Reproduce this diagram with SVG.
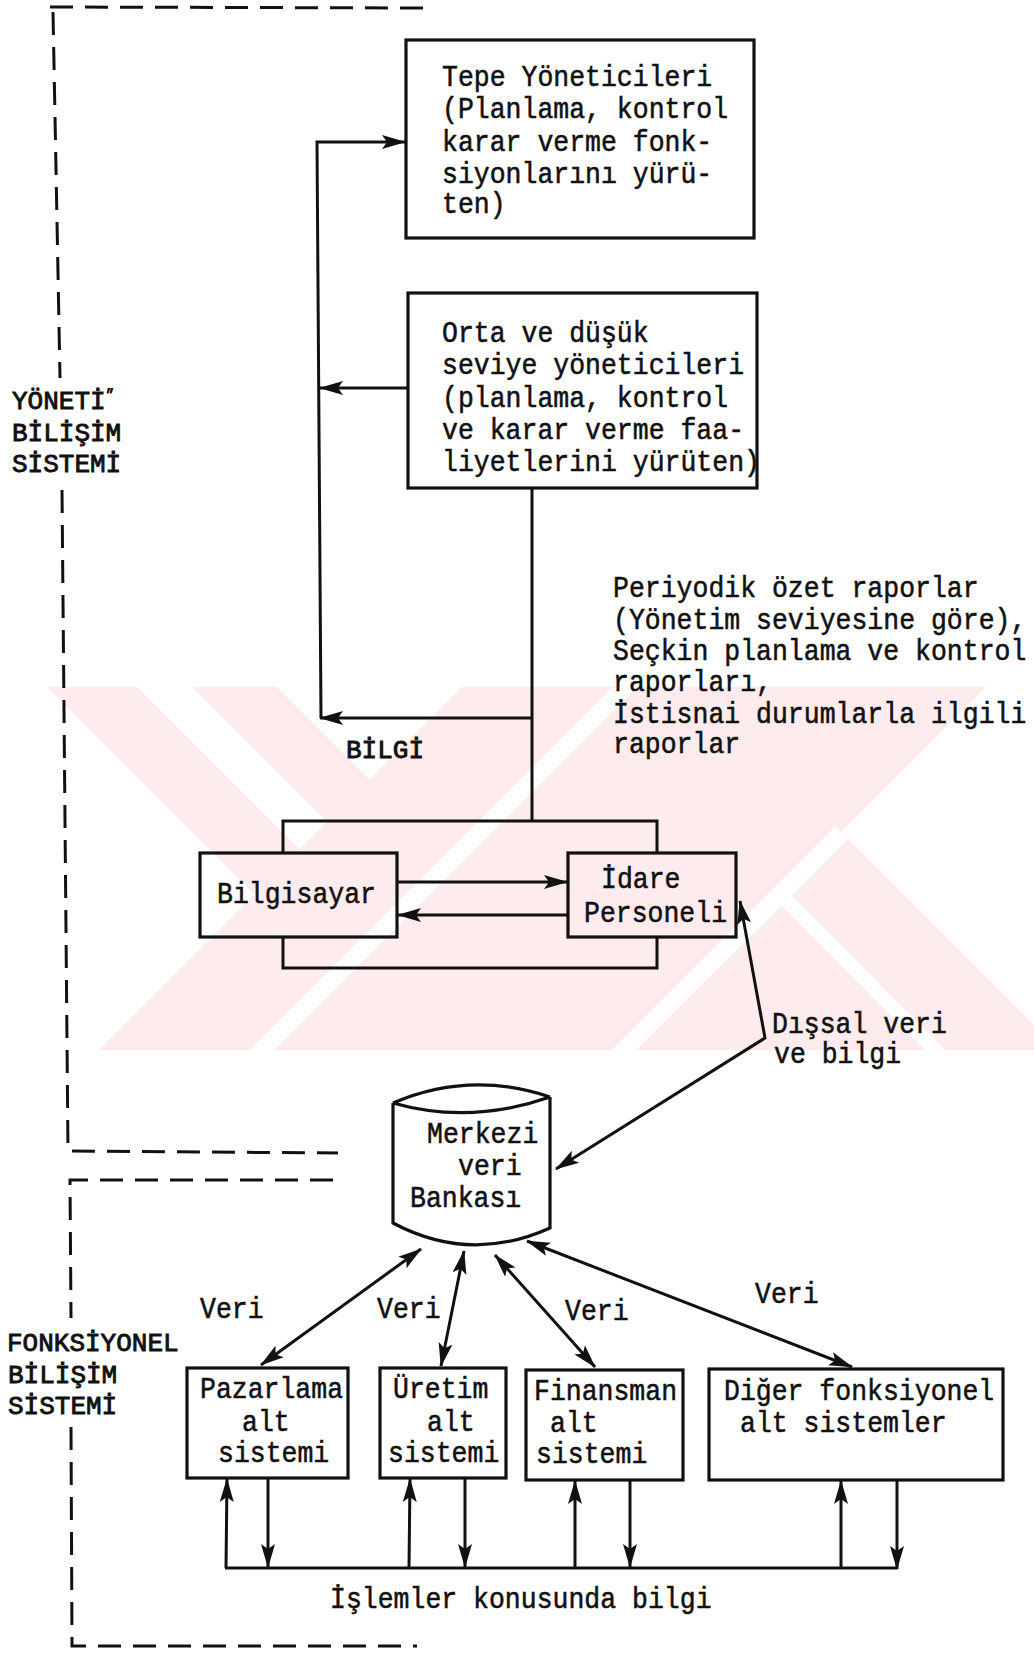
<svg xmlns="http://www.w3.org/2000/svg" width="1034" height="1655" viewBox="0 0 1034 1655">
  <style>
    .t { font-family: "Liberation Mono", "Courier New", monospace; font-size: 26.5px; fill: #111; stroke: #111; stroke-width: 0.5; }
    .lab { font-family: "Liberation Mono", "Courier New", monospace; font-size: 26px; fill: #111; stroke: #111; stroke-width: 0.9; }
    .box { fill: none; stroke: #111; stroke-width: 3.2; }
    .ln { fill: none; stroke: #111; stroke-width: 3; }
    .arr { fill: none; stroke: #111; stroke-width: 3; marker-end: url(#ah); }
    .arr2 { fill: none; stroke: #111; stroke-width: 3; marker-start: url(#ah); marker-end: url(#ah); }
    .dash { fill: none; stroke: #111; stroke-width: 3; stroke-dasharray: 23 12; }
    .wm { fill: #fdebee; }
    .wmgap { fill: #fff; }
  </style>
  <defs>
    <marker id="ah" viewBox="0 0 24 16" refX="23" refY="8" markerWidth="24" markerHeight="16" markerUnits="userSpaceOnUse" orient="auto-start-reverse">
      <path d="M0,1 L24,8 L0,15 L5,8 z" fill="#111"/>
    </marker>
    <clipPath id="wmclip">
      <rect x="40" y="687" width="994" height="363"/>
    </clipPath>
  </defs>
  <rect width="1034" height="1655" fill="#fff"/>

  <!-- faint background emblem -->
  <g id="watermark" clip-path="url(#wmclip)">
    <polygon class="wm" points="47,687 137,687 537,1087 447,1087"/>
    <polygon class="wm" points="192,687 277,687 677,1087 592,1087"/>
    <polygon class="wm" points="462,687 1100,687 1100,1100 49,1100"/>
    <polygon class="wmgap" points="613,687 637,687 224,1100 200,1100"/>
    <polygon class="wmgap" points="841,832 986,687 1100,687 1100,1091"/>
    <polygon class="wmgap" points="835,827 848,839 586,1100 562,1100"/>
    <polygon class="wmgap" points="775,899 785,889 995,1100 975,1100"/>
  </g>

  <!-- system boundaries (dashed) -->
  <g id="boundaries">
    <path class="dash" d="M50 7 L428 8"/>
    <path class="dash" d="M53 12 L60 378"/>
    <path class="dash" d="M62 490 L68 1151 L338 1153"/>
    <path class="dash" d="M333 1180 L70 1180 L71 1318"/>
    <path class="dash" d="M71 1427 L72 1646 L417 1646"/>
  </g>

  <!-- side labels -->
  <g id="label-yonetim">
    <text class="lab" x="12" y="409">YÖNETİ<tspan font-size="14" dy="-9">״</tspan></text>
    <text class="lab" x="12" y="441">BİLİŞİM</text>
    <text class="lab" x="12" y="472">SİSTEMİ</text>
  </g>
  <g id="label-fonksiyonel">
    <text class="lab" x="7" y="1351">FONKSİYONEL</text>
    <text class="lab" x="8" y="1383">BİLİŞİM</text>
    <text class="lab" x="8" y="1414">SİSTEMİ</text>
  </g>

  <!-- connectors -->
  <g id="connectors">
    <path class="arr" d="M321 718 L317 142 L405 142"/>
    <path class="arr" d="M408 388 L320 388"/>
    <path class="ln" d="M532 488 L532 821"/>
    <path class="arr" d="M532 718 L320 718"/>
    <path class="ln" d="M283 853 L283 821 L657 821 L657 853"/>
    <path class="ln" d="M283 937 L283 968 L657 968 L657 937"/>
    <path class="arr" d="M397 882 L567 882"/>
    <path class="arr" d="M568 915 L398 915"/>
    <path class="arr2" d="M740 901 L765 1038 L556 1169"/>
    <path class="arr2" d="M421 1249 L261 1365"/>
    <path class="arr2" d="M464 1251 L441 1366"/>
    <path class="arr2" d="M495 1255 L595 1367"/>
    <path class="arr2" d="M527 1241 L852 1367"/>
    <path class="ln" d="M225 1568 L897 1568"/>
    <path class="arr" d="M226 1568 L227 1479"/>
    <path class="arr" d="M268 1479 L268 1567"/>
    <path class="arr" d="M409 1568 L410 1479"/>
    <path class="arr" d="M465 1479 L465 1567"/>
    <path class="arr" d="M575 1568 L575 1481"/>
    <path class="arr" d="M630 1481 L630 1567"/>
    <path class="arr" d="M841 1568 L841 1481"/>
    <path class="arr" d="M897 1481 L897 1569"/>
  </g>

  <!-- connector labels -->
  <g id="labels">
    <text class="lab" x="346" y="758">BİLGİ</text>
    <text class="t" transform="translate(613 597) scale(1 1.12)"><tspan x="0" y="0">Periyodik özet raporlar</tspan><tspan x="0" y="28.6">(Yönetim seviyesine göre),</tspan><tspan x="0" y="56.3">Seçkin planlama ve kontrol</tspan><tspan x="0" y="84">raporları,</tspan><tspan x="0" y="112.5">İstisnai durumlarla ilgili</tspan><tspan x="0" y="139.3">raporlar</tspan></text>
    <text class="t" transform="translate(772 1033) scale(1 1.12)"><tspan x="0" y="0">Dışsal veri</tspan><tspan x="2" y="26.8">ve bilgi</tspan></text>
    <text class="t" transform="translate(200 1318) scale(1 1.12)">Veri</text>
    <text class="t" transform="translate(377 1318) scale(1 1.12)">Veri</text>
    <text class="t" transform="translate(565 1320) scale(1 1.12)">Veri</text>
    <text class="t" transform="translate(755 1303) scale(1 1.12)">Veri</text>
    <text class="t" transform="translate(330 1608) scale(1 1.12)">İşlemler konusunda bilgi</text>
  </g>

  <!-- nodes -->
  <g id="tepe">
    <rect class="box" x="406" y="40" width="348" height="198"/>
    <text class="t" transform="translate(442 86) scale(1 1.12)"><tspan x="0" y="0">Tepe Yöneticileri</tspan><tspan x="0" y="28.6">(Planlama, kontrol</tspan><tspan x="0" y="58">karar verme fonk-</tspan><tspan x="0" y="86.6">siyonlarını yürü-</tspan><tspan x="0" y="113.4">ten)</tspan></text>
  </g>
  <g id="orta">
    <rect class="box" x="408" y="293" width="349" height="195"/>
    <text class="t" transform="translate(442 342) scale(1 1.12)"><tspan x="0" y="0">Orta ve düşük</tspan><tspan x="0" y="28.6">seviye yöneticileri</tspan><tspan x="0" y="58">(planlama, kontrol</tspan><tspan x="0" y="86.6">ve karar verme faa-</tspan><tspan x="0" y="115.2">liyetlerini yürüten)</tspan></text>
  </g>
  <g id="bilgisayar">
    <rect class="box" x="200" y="853" width="197" height="84"/>
    <text class="t" transform="translate(217 903) scale(1 1.12)">Bilgisayar</text>
  </g>
  <g id="idare">
    <rect class="box" x="568" y="853" width="168" height="84"/>
    <text class="t" transform="translate(0 888) scale(1 1.12)"><tspan x="601" y="0">İdare</tspan><tspan x="584" y="30.4">Personeli</tspan></text>
  </g>
  <g id="veribankasi">
    <path class="box" d="M393 1103 Q470 1070 550 1097 M393 1103 Q470 1125 550 1097 M393 1103 L393 1223 Q470 1264 550 1228 L550 1097"/>
    <text class="t" transform="translate(0 1143) scale(1 1.12)"><tspan x="427" y="0">Merkezi</tspan><tspan x="458" y="28.6">veri</tspan><tspan x="410" y="57.1">Bankası</tspan></text>
  </g>
  <g id="pazarlama">
    <rect class="box" x="187" y="1368" width="161" height="110"/>
    <text class="t" transform="translate(0 1398) scale(1 1.12)"><tspan x="200" y="0">Pazarlama</tspan><tspan x="242" y="29.5">alt</tspan><tspan x="218" y="57.1">sistemi</tspan></text>
  </g>
  <g id="uretim">
    <rect class="box" x="380" y="1368" width="126" height="110"/>
    <text class="t" transform="translate(0 1398) scale(1 1.12)"><tspan x="393" y="0">Üretim</tspan><tspan x="427" y="29.5">alt</tspan><tspan x="388" y="57.1">sistemi</tspan></text>
  </g>
  <g id="finansman">
    <rect class="box" x="526" y="1370" width="157" height="110"/>
    <text class="t" transform="translate(0 1400) scale(1 1.12)"><tspan x="534" y="0">Finansman</tspan><tspan x="550" y="28.6">alt</tspan><tspan x="536" y="56.3">sistemi</tspan></text>
  </g>
  <g id="diger">
    <rect class="box" x="709" y="1369" width="294" height="111"/>
    <text class="t" transform="translate(0 1400) scale(1 1.12)"><tspan x="724" y="0">Diğer fonksiyonel</tspan><tspan x="740" y="28.6">alt sistemler</tspan></text>
  </g>
</svg>
